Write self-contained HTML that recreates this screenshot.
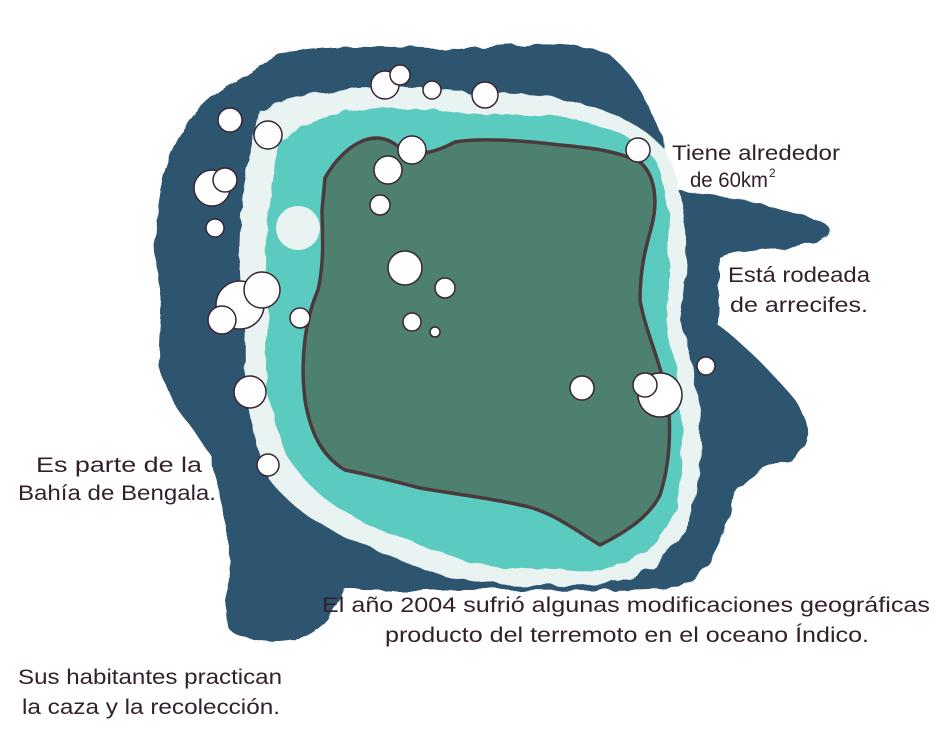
<!DOCTYPE html>
<html><head><meta charset="utf-8"><style>
html,body{margin:0;padding:0;background:#fff;}
svg{display:block;}
text{font-family:"Liberation Sans",sans-serif;font-size:21px;fill:#33202d;font-weight:500;}
</style></head><body>
<svg width="940" height="752" viewBox="0 0 940 752" xmlns="http://www.w3.org/2000/svg">
<defs>
<filter id="rough"><feTurbulence type="fractalNoise" baseFrequency="0.05" numOctaves="2" seed="3"/><feDisplacementMap in="SourceGraphic" scale="8"/></filter>
</defs>
<!-- dark ocean -->
<path filter="url(#rough)" fill="#2f5470" d="M285,52 C340,42 420,48 460,50 C520,42 580,40 610,55 C640,80 650,110 662,135 L668,190 C700,195 740,195 790,212 C830,222 845,232 815,242 C780,250 740,248 720,258 L718,325 C745,345 770,370 795,400 C812,425 812,445 790,460 C760,470 740,480 730,505 C722,545 705,575 680,588 C620,592 560,590 480,590 L345,590 C335,610 325,628 300,638 C270,645 240,640 228,628 C222,600 232,560 228,530 C222,505 215,480 210,455 C195,430 175,410 165,385 C152,350 165,320 160,290 C150,250 158,200 165,170 C178,130 200,100 235,82 C255,70 270,58 285,52 Z"/>
<!-- reef white halo -->
<path filter="url(#rough)" fill="#e8f3f2" d="M260,110 C320,80 420,85 480,95 C560,90 630,110 665,150 C690,200 690,260 680,320 C700,380 710,450 690,520 C670,570 620,590 560,585 C500,588 440,580 400,560 C350,540 300,520 270,480 C250,430 240,380 245,320 C235,260 240,200 250,160 Z"/>
<!-- teal ring -->
<path filter="url(#rough)" fill="#5ccbbf" d="M280,140 C330,100 420,105 480,115 C560,110 630,125 655,160 C675,210 670,260 665,320 C680,380 690,450 675,510 C655,560 610,575 560,570 C500,572 450,560 410,540 C360,525 315,500 290,460 C270,420 262,370 268,320 C262,260 265,200 280,140 Z"/>
<!-- island -->
<path fill="#4d806f" stroke="#4a3a3e" stroke-width="3.5" stroke-linejoin="round" d="M325,178 C335,160 350,145 365,140 C380,135 392,140 402,150 C420,158 440,150 455,142 C480,138 520,140 560,145 C590,148 615,150 640,162 C655,175 658,200 652,225 C645,250 640,270 640,300 C645,330 660,360 668,400 C672,440 668,470 660,495 C650,515 630,530 600,545 C575,530 550,510 520,505 C490,498 460,495 420,488 C390,480 370,475 345,470 C320,455 310,430 305,400 C300,360 305,320 318,290 C325,260 322,230 322,210 Z"/>
<!-- clouds -->
<g fill="#fff" stroke="#3a2433" stroke-width="1.5">
<circle cx="230" cy="120" r="12"/><circle cx="268" cy="135" r="14"/><circle cx="385" cy="85" r="14"/><circle cx="400" cy="75" r="10"/>
<circle cx="432" cy="90" r="9"/><circle cx="485" cy="95" r="13"/><circle cx="212" cy="188" r="18"/><circle cx="225" cy="180" r="12"/>
<circle cx="215" cy="228" r="9"/><circle cx="298" cy="228" r="22" fill="#e8f3f2" stroke="none"/><circle cx="240" cy="305" r="24"/><circle cx="262" cy="290" r="18"/>
<circle cx="222" cy="320" r="14"/><circle cx="300" cy="318" r="10"/><circle cx="250" cy="392" r="16"/><circle cx="268" cy="465" r="11"/>
<circle cx="388" cy="170" r="14"/><circle cx="412" cy="150" r="14"/><circle cx="380" cy="205" r="10"/><circle cx="405" cy="268" r="17"/>
<circle cx="445" cy="288" r="10"/><circle cx="412" cy="322" r="9"/><circle cx="435" cy="332" r="5"/><circle cx="582" cy="388" r="12"/>
<circle cx="660" cy="395" r="22"/><circle cx="645" cy="385" r="12"/><circle cx="706" cy="366" r="9"/><circle cx="638" cy="150" r="12"/>
</g>
<!-- text -->
<text x="672" y="160" textLength="168" lengthAdjust="spacingAndGlyphs">Tiene alrededor</text>
<text x="690" y="187" textLength="78" lengthAdjust="spacingAndGlyphs">de 60km</text>
<text x="769" y="177" style="font-size:12px">2</text>
<text x="728" y="282" textLength="142" lengthAdjust="spacingAndGlyphs">Está rodeada</text>
<text x="730" y="312" textLength="138" lengthAdjust="spacingAndGlyphs">de arrecifes.</text>
<text x="36" y="472" textLength="166" lengthAdjust="spacingAndGlyphs">Es parte de la</text>
<text x="18" y="500" textLength="198" lengthAdjust="spacingAndGlyphs">Bahía de Bengala.</text>
<text x="322" y="612" textLength="608" lengthAdjust="spacingAndGlyphs">El año 2004 sufrió algunas modificaciones geográficas</text>
<text x="385" y="642" textLength="484" lengthAdjust="spacingAndGlyphs">producto del terremoto en el oceano Índico.</text>
<text x="18" y="684" textLength="264" lengthAdjust="spacingAndGlyphs">Sus habitantes practican</text>
<text x="22" y="714" textLength="258" lengthAdjust="spacingAndGlyphs">la caza y la recolección.</text>
</svg>
</body></html>
